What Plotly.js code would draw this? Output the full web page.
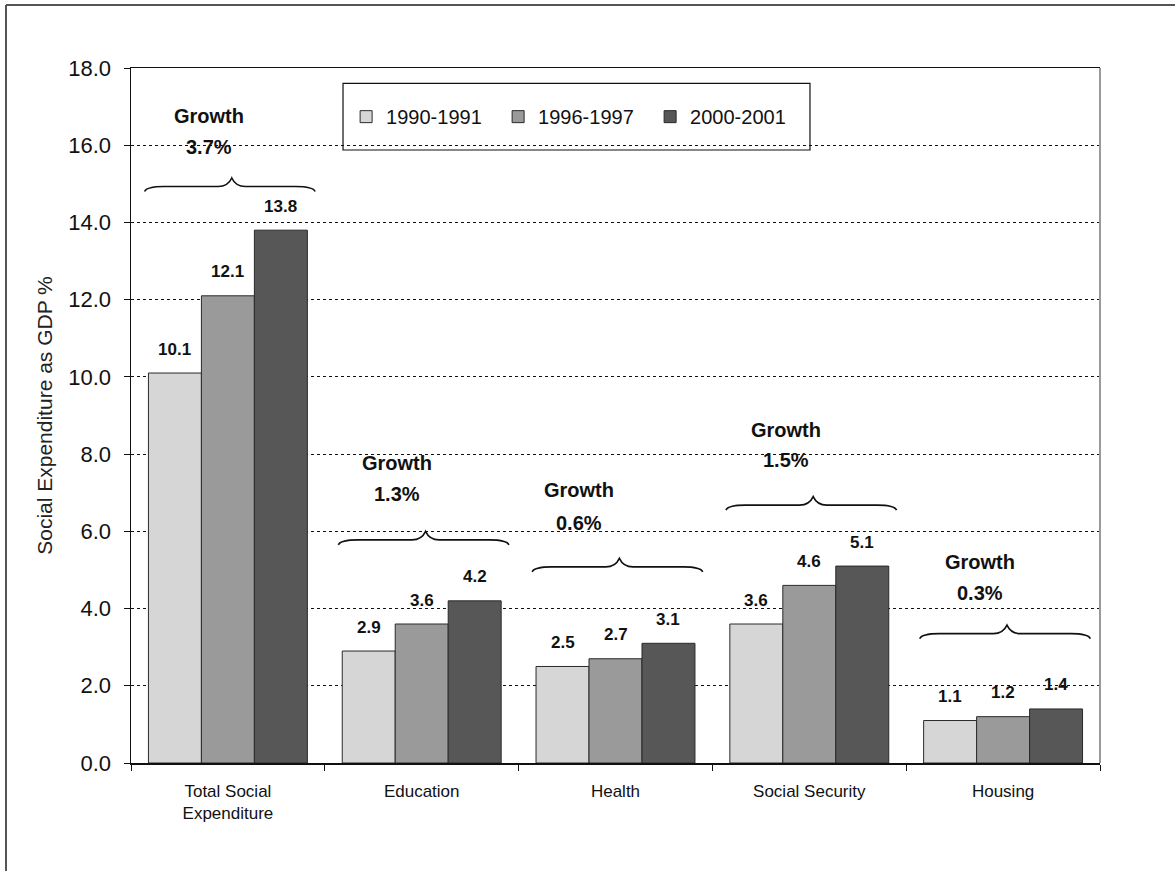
<!DOCTYPE html>
<html>
<head>
<meta charset="utf-8">
<script src="https://cdn.plot.ly/plotly-3.0.1.min.js"></script>
<style>html,body{margin:0;padding:0;background:#fff;}#chart{width:1175px;height:871px;}</style>
</head>
<body>
<div id="chart"></div>
<script>
// ---- data ----
const categories = ["Total Social<br>Expenditure", "Education", "Health", "Social Security", "Housing"];
const seriesNames = ["1990-1991", "1996-1997", "2000-2001"];
const values1990 = [10.1, 2.9, 2.5, 3.6, 1.1];
const values1996 = [12.1, 3.6, 2.7, 4.6, 1.2];
const values2000 = [13.8, 4.2, 3.1, 5.1, 1.4];
const growthLabels = ["3.7%", "1.3%", "0.6%", "1.5%", "0.3%"];
const yTickVals = [0, 2, 4, 6, 8, 10, 12, 14, 16, 18];

// ---- annotation placement (layout only) ----
const braceLevel = [14.93, 5.78, 5.08, 6.68, 3.35];
const growthWordY = [16.76, 7.77, 7.07, 8.62, 5.21];
const growthPctY = [15.95, 6.97, 6.22, 7.85, 4.40];
const growthDx = [-0.10, -0.13, -0.19, -0.12, -0.12];

const colors = ["#d6d6d6", "#9a9a9a", "#575757"];
const allSeries = [values1990, values1996, values2000];
const xIdx = categories.map((_, i) => i);
const barGap = 0.18;
const barW = (1 - barGap) / 3;

const traces = allSeries.map((vals, s) => ({
  type: "bar",
  name: seriesNames[s],
  x: xIdx,
  y: vals,
  marker: {color: colors[s], line: {color: "#2a2a2a", width: 1}},
  hoverinfo: "y+name"
}));

const annotations = [];
allSeries.forEach((vals, s) => {
  vals.forEach((v, i) => {
    annotations.push({
      x: i + (s - 1) * barW, y: v, xref: "x", yref: "y",
      text: v.toFixed(1), showarrow: false, yanchor: "middle", yshift: 24,
      font: {family: "Arial, Liberation Sans, sans-serif", size: 17, color: "#111", weight: "bold"}
    });
  });
});
growthLabels.forEach((g, i) => {
  annotations.push({x: i + growthDx[i], y: growthWordY[i], xref: "x", yref: "y", text: "<b>Growth</b>",
    showarrow: false, yanchor: "middle", font: {family: "Arial, Liberation Sans, sans-serif", size: 20, color: "#111"}});
  annotations.push({x: i + growthDx[i], y: growthPctY[i], xref: "x", yref: "y", text: "<b>" + g + "</b>",
    showarrow: false, yanchor: "middle", font: {family: "Arial, Liberation Sans, sans-serif", size: 20, color: "#111"}});
});

function bracePath(c, y0) {
  const xL = c - 0.43, xR = c + 0.45, xp = c + 0.02;
  const dn = 0.13, up = 0.22;
  return `M ${xL},${y0 - dn} Q ${xL + 0.01},${y0} ${xL + 0.1},${y0} L ${xp - 0.07},${y0} ` +
         `Q ${xp - 0.02},${y0} ${xp},${y0 + up} Q ${xp + 0.02},${y0} ${xp + 0.07},${y0} ` +
         `L ${xR - 0.1},${y0} Q ${xR - 0.01},${y0} ${xR},${y0 - dn}`;
}
const shapes = braceLevel.map((y0, i) => ({
  type: "path", xref: "x", yref: "y", path: bracePath(i, y0),
  line: {color: "#111", width: 1.6}
}));
// legend frame
shapes.push({type: "rect", xref: "paper", yref: "paper", x0: 0.2188, x1: 0.7007, y0: 0.882, y1: 0.978,
  line: {color: "#111", width: 1.2}, fillcolor: "rgba(0,0,0,0)", layer: "above"});
// right plot edge (grey)
shapes.push({type: "line", xref: "paper", yref: "paper", x0: 1, x1: 1, y0: 0, y1: 1, line: {color: "#9a9a9a", width: 2}});
// outer frame (top & left)
shapes.push({type: "line", xref: "paper", yref: "paper", x0: -0.129, x1: 1.08, y0: 1.0906, y1: 1.0906, line: {color: "#555", width: 2}});
shapes.push({type: "line", xref: "paper", yref: "paper", x0: -0.129, x1: -0.129, y0: 1.0906, y1: -0.16, line: {color: "#555", width: 2}});

const layout = {
  width: 1175, height: 871,
  margin: {l: 131, r: 75, t: 68, b: 108},
  paper_bgcolor: "#fff", plot_bgcolor: "#fff",
  font: {family: "Arial, Liberation Sans, sans-serif", color: "#111"},
  barmode: "group", bargap: barGap, bargroupgap: 0,
  showlegend: true,
  legend: {orientation: "h", x: 0.222, xanchor: "left", y: 0.93, yanchor: "middle",
    font: {size: 20, color: "#111"}, bgcolor: "rgba(0,0,0,0)", borderwidth: 0,
    entrywidth: 107, entrywidthmode: "pixels", traceorder: "normal"},
  xaxis: {
    range: [-0.5, 4.5], tickmode: "array", tickvals: xIdx, ticktext: categories,
    ticks: "", showgrid: false, zeroline: false,
    showline: true, linecolor: "#111", linewidth: 1.5, mirror: true,
    tickfont: {size: 17, color: "#111"}, ticklabelstandoff: 12,
    minor: {tickmode: "linear", tick0: -0.5, dtick: 1, ticks: "outside", ticklen: 6, tickcolor: "#111", showgrid: false}
  },
  yaxis: {
    range: [0, 18], tickmode: "array", tickvals: yTickVals, tickformat: ".1f",
    ticks: "outside", ticklen: 6, tickcolor: "#111",
    showline: true, linecolor: "#111", linewidth: 1.5, zeroline: false,
    showgrid: true, gridcolor: "#111", griddash: "dot", gridwidth: 1,
    tickfont: {size: 22, color: "#111"}, ticklabelstandoff: 8,
    title: {text: "Social Expenditure as GDP %", font: {size: 21, color: "#222"}, standoff: 10}
  },
  annotations: annotations,
  shapes: shapes
};

Plotly.newPlot("chart", traces, layout, {displayModeBar: false, staticPlot: true});
</script>
</body>
</html>
